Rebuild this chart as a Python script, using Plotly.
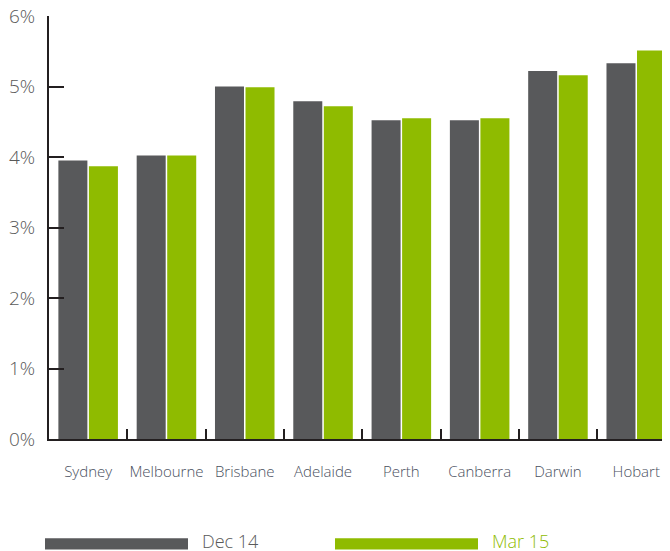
import plotly.graph_objects as go

cities = ["Sydney", "Melbourne", "Brisbane", "Adelaide", "Perth", "Canberra", "Darwin", "Hobart"]
dec14 = [3.95, 4.02, 5.00, 4.79, 4.52, 4.52, 5.22, 5.33]
mar15 = [3.87, 4.02, 4.99, 4.72, 4.55, 4.55, 5.16, 5.51]
series_names = ["Dec 14", "Mar 15"]
y_ticks = [0, 1, 2, 3, 4, 5, 6]
y_tick_text = ["0%", "1%", "2%", "3%", "4%", "5%", "6%"]

DARK = "#58595b"
GREEN = "#8fbb00"
AXIS = "#231f20"
OFF = 8  # page body margin
W, H = 670 - OFF, 551 - OFF
ML, MR, MT = 49 - OFF, 0, 16 - OFF
MB = H - (438.7 - OFF)

fig = go.Figure()
fig.add_trace(go.Bar(x=cities, y=dec14, name=series_names[0], marker_color=DARK,
                     marker_line_width=0, showlegend=False))
fig.add_trace(go.Bar(x=cities, y=mar15, name=series_names[1], marker_color=GREEN,
                     marker_line_width=0, showlegend=False))

pw = W - ML - MR
ph = H - MT - MB

def px_x(p):
    return (p - OFF - ML) / pw

def px_y(p):
    return (H - MB - (p - OFF)) / ph

# custom legend with wide swatches (page pixel positions)
legend_items = [(series_names[0], DARK, "#5a5a5a", 45, 188, 200),
                (series_names[1], GREEN, GREEN, 335, 478, 490)]
for name, col, tcol, x0, x1, tx in legend_items:
    fig.add_shape(type="rect", xref="paper", yref="paper",
                  x0=px_x(x0), x1=px_x(x1), y0=px_y(549), y1=px_y(538),
                  fillcolor=col, line_width=0)
    fig.add_annotation(xref="paper", yref="paper", x=px_x(tx), y=px_y(541),
                       text=name, showarrow=False, xanchor="left", yanchor="middle",
                       font=dict(size=18, color=tcol, family="Open Sans", weight=300))

fig.update_layout(
    width=W, height=H,
    margin=dict(l=ML, r=MR, t=MT, b=MB, autoexpand=False),
    paper_bgcolor="white", plot_bgcolor="white",
    barmode="group", bargap=0.22, bargroupgap=0.05,
    font=dict(family="Open Sans", color="#595959"),
)
fig.update_xaxes(
    range=[-0.5, -0.5 + pw / 78.3],
    showline=True, linecolor=AXIS, linewidth=2,
    ticks="inside", tickson="boundaries", ticklen=10, tickwidth=2, tickcolor=AXIS,
    tickangle=0,
    tickfont=dict(size=15, color="#4a5060", family="Open Sans", weight=300),
    ticklabelstandoff=18,
    showgrid=False, zeroline=False,
)
fig.update_yaxes(
    range=[0, 6], tickvals=y_ticks, ticktext=y_tick_text,
    showline=True, linecolor=AXIS, linewidth=2,
    ticks="inside", ticklen=15, tickwidth=2, tickcolor=AXIS,
    tickfont=dict(size=19, color="#595959", family="Open Sans", weight=300),
    ticklabelstandoff=8, ticklabeloverflow="allow",
    showgrid=False, zeroline=False,
)

fig.write_html("out.html")
